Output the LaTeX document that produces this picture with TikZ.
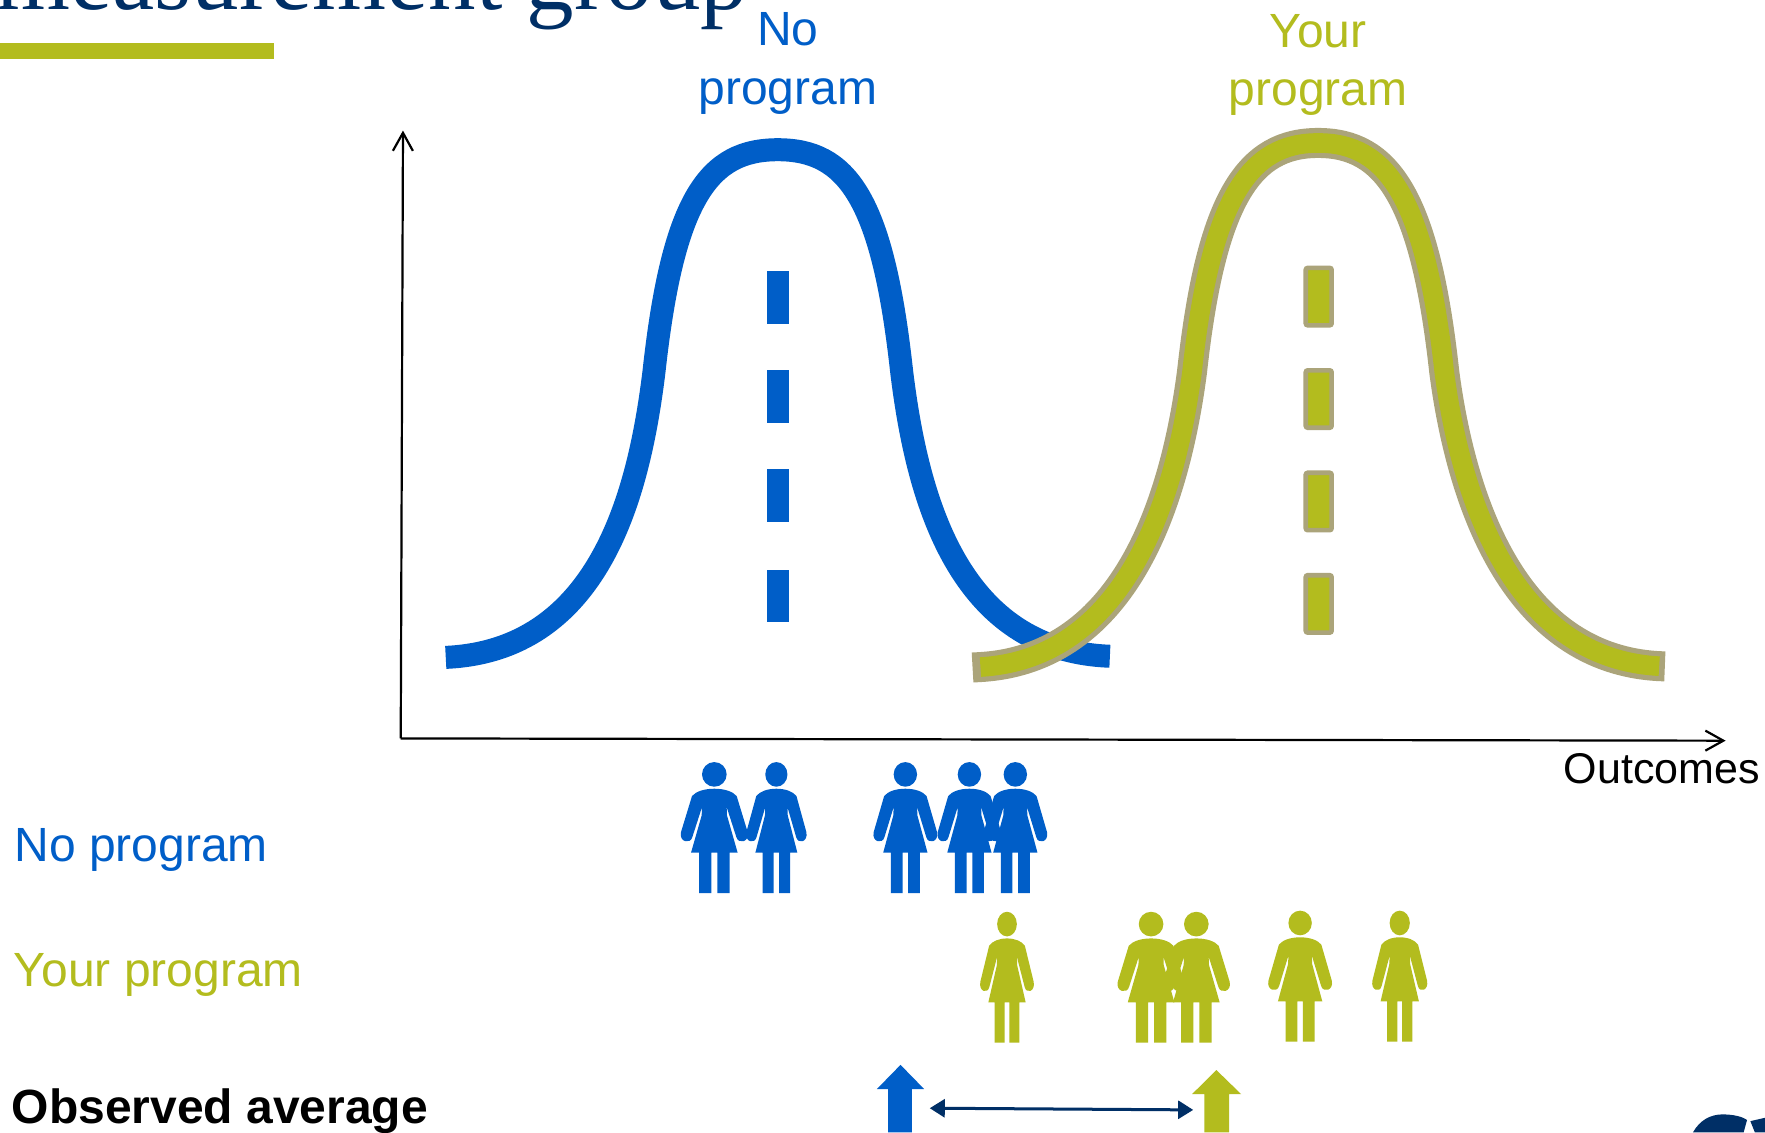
\documentclass[tikz,border=0pt]{standalone}
\usepackage{fontspec}
\setmainfont{Liberation Sans}
\newfontfamily\titlefont{Liberation Serif}
\usetikzlibrary{arrows.meta}
\definecolor{progblue}{HTML}{005EC8}
\definecolor{progolive}{HTML}{B3BC1E}
\definecolor{progtan}{HTML}{ABA47A}
\definecolor{navy}{HTML}{002F66}
\newcommand{\personfig}[4]{%
  \begin{scope}[shift={(#1,#2)},xscale=0.296*#3,yscale=0.296]
    \fill[#4] (0,37) ellipse [x radius=37,y radius=37];
    \fill[#4] (0,80)
      .. controls (30,80) and (55,88) .. (67,102)
      -- (100,210)
      .. controls (107,240) and (72,248) .. (66,225)
      -- (37,135) -- (38,160) -- (70,272) -- (46,272) -- (46,393)
      -- (9,393) -- (9,272) -- (-9,272) -- (-9,393) -- (-46,393) -- (-46,272)
      -- (-70,272) -- (-38,160) -- (-37,135) -- (-66,225)
      .. controls (-72,248) and (-107,240) .. (-100,210)
      -- (-67,102)
      .. controls (-55,88) and (-30,80) .. (0,80) -- cycle;
  \end{scope}}
\tikzset{
  bigcurve/.style={line width=#1,line join=round},
  blabel/.style={inner sep=0,anchor=base,text=progblue,font=\fontsize{24}{28}\selectfont},
  olabel/.style={inner sep=0,anchor=base,text=progolive,font=\fontsize{24}{28}\selectfont},
  side/.style={inner sep=0,anchor=base west,font=\fontsize{24}{28}\selectfont},
  axisline/.style={line width=1.1pt,-{Straight Barb[length=9pt,width=10pt,line width=1.1pt]}},
  oliverect/.style={fill=progolive,draw=progtan,line width=2.3pt,rounded corners=1pt},
}
\begin{document}
\begin{tikzpicture}[x=0.5628pt,y=-0.5628pt]
\useasboundingbox (0,0) rectangle (1568,1005.7);
\clip (0,0) rectangle (1568,1005.7);
\fill[white] (0,0) rectangle (1568,1005.7);
% title and rule
\node[inner sep=0,anchor=base east,text=navy,font=\titlefont\fontsize{47.5}{50}\selectfont] (title) at (665,8) {measurement group};
\fill[progolive] (0,38) rectangle (243,52);
% axes
\coordinate (origin) at (356,656);
\coordinate (ytop) at (358,116);
\coordinate (xend) at (1533,658);
\draw[axisline] (origin) -- (ytop);
\draw[axisline] (origin) -- (xend);
\node[side,font=\fontsize{21.5}{26}\selectfont] (outcomes) at (1389,696) {Outcomes};
% blue curve
\draw[progblue,bigcurve=11.5pt] (396,584)
  .. controls (530,578) and (567,445) .. (581,330)
  .. controls (598,175) and (630,133) .. (691,133)
  .. controls (752,133) and (784,175) .. (801,330)
  .. controls (815,445) and (852,578) .. (986,583);
\foreach \ya/\yb in {241/288,329/376,417/464,506/553}
  \fill[progblue] (681,\ya) rectangle (701,\yb);
% olive curve
\def\olivepath{(871,592.6)
  .. controls (1000,585) and (1044,445) .. (1059,330)
  .. controls (1076,175) and (1110,127) .. (1171,127)
  .. controls (1232,127) and (1266,175) .. (1283,330)
  .. controls (1298,445) and (1345,585) .. (1474,591.8)}
\draw[progtan,bigcurve=15pt] (864,593) -- (871,592.6)
  .. controls (1000,585) and (1044,445) .. (1059,330)
  .. controls (1076,175) and (1110,127) .. (1171,127)
  .. controls (1232,127) and (1266,175) .. (1283,330)
  .. controls (1298,445) and (1345,585) .. (1474,591.8) -- (1479,592);
\draw[progolive,bigcurve=9.8pt] \olivepath;
\foreach \ya/\yb in {238/289,329/380,420/471,511/562}
  \draw[oliverect] (1160,\ya) rectangle (1183,\yb);
% curve labels
\node[blabel] (noa) at (700,40) {No};
\node[blabel] (nob) at (700,93) {program};
\node[olabel] (yoa) at (1171,42) {Your};
\node[olabel] (yob) at (1171,93.5) {program};
% people, no program
\personfig{634.6}{677}{1}{progblue}
\personfig{689.7}{677}{0.9}{progblue}
\personfig{804.3}{677}{0.95}{progblue}
\personfig{861.2}{677}{0.95}{progblue}
\personfig{902}{677}{0.95}{progblue}
% people, your program
\personfig{894.6}{810}{0.8}{progolive}
\personfig{1022.6}{810}{1}{progolive}
\personfig{1062.8}{810}{1}{progolive}
\personfig{1155}{809}{0.95}{progolive}
\personfig{1243.5}{809}{0.82}{progolive}
% side labels
\node[side,text=progblue] (lno) at (12.5,765) {No program};
\node[side,text=progolive] (lyour) at (12,876) {Your program};
\node[side,font=\bfseries\fontsize{24}{28}\selectfont] (lobs) at (10,998) {Observed average};
% average markers
\fill[progblue] (800,946) -- (821,967.5) -- (810,967.5) -- (810,1006) -- (789,1006) -- (789,967.5) -- (779,967.5) -- cycle;
\fill[progolive] (1080.6,950.6) -- (1102.6,972) -- (1092,972) -- (1092,1006) -- (1070,1006) -- (1070,972) -- (1059,972) -- cycle;
\coordinate (avga) at (826,984.5);
\coordinate (avgb) at (1060,986);
\draw[navy,line width=1.5pt,{Triangle[length=7.5pt,width=9pt]}-{Triangle[length=7.5pt,width=9pt]}] (avga) -- (avgb);
% corner of the logo, cut by the page edge
\fill[navy] (1504,1006) .. controls (1510,995) and (1520,990) .. (1530,990)
  .. controls (1540,990) and (1548,992) .. (1552,995) -- (1549,1006) -- cycle;
\fill[navy] (1555,996) -- (1568,993) -- (1568,1006) -- (1559,1006) -- cycle;
\end{tikzpicture}
\end{document}
